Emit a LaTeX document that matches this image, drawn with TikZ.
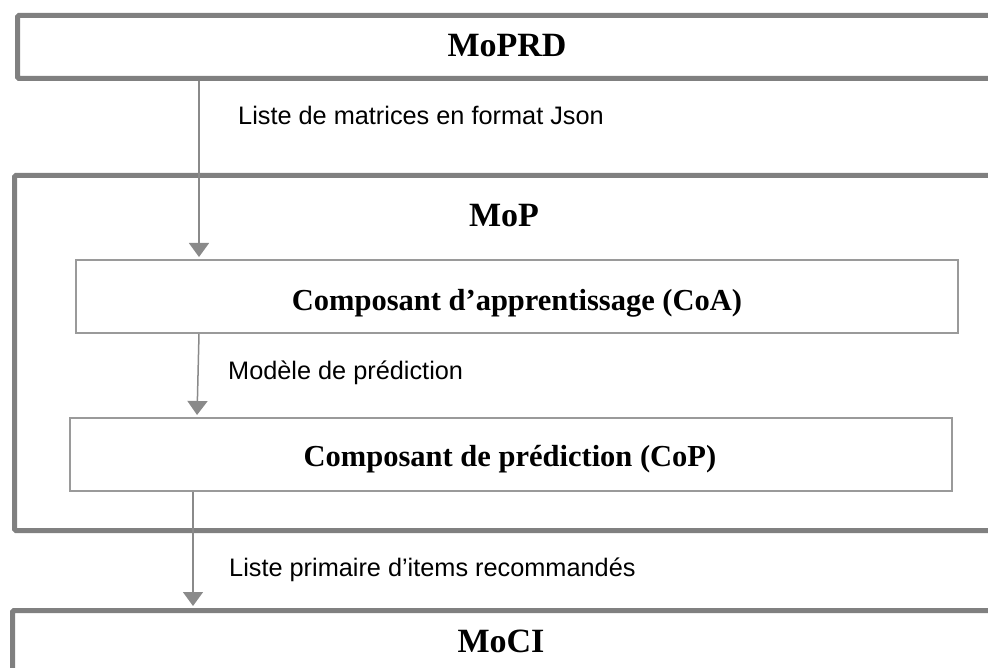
\documentclass[tikz,border=0pt]{standalone}
\usepackage{fontspec}
\setmainfont{Liberation Serif}
\newfontfamily\labfont{Liberation Sans}
\usetikzlibrary{arrows.meta}
\definecolor{thick}{HTML}{808080}
\definecolor{thin}{HTML}{9A9A9A}
\definecolor{arrc}{HTML}{8A8A8A}
\tikzset{
  bigbox/.style={draw=thick, line width=5pt, rounded corners=1.5pt, inner sep=0pt, anchor=north west},
  smallbox/.style={draw=thin, line width=1.8pt, inner sep=0pt, anchor=north west},
  title/.style={font=\fontsize{34}{40}\selectfont\bfseries, anchor=base, inner sep=0pt},
  subtitle/.style={font=\fontsize{30.5}{36}\selectfont\bfseries, anchor=base, inner sep=0pt},
  lab/.style={font=\labfont\fontsize{25.3}{30}\selectfont, anchor=base west, inner sep=0pt},
  arr/.style={draw=arrc, line width=1.5pt, -{Triangle[width=20pt,length=14pt]}, arrc, shorten >=2pt}
}
\begin{document}
\begin{tikzpicture}[x=1pt,y=-1pt]
\clip (0,0) rectangle (988,668);
\useasboundingbox (0,0) rectangle (988,668);
% big boxes
\node[bigbox, minimum width=1100pt, minimum height=63pt] (moprd) at (15,13) {};
\node[bigbox, minimum width=1100pt, minimum height=355pt] (mop) at (12,173) {};
\node[bigbox, minimum width=1100pt, minimum height=120pt] (moci) at (10,608) {};
% inner boxes
\node[smallbox, minimum width=882pt, minimum height=73pt] (coa) at (75,259) {};
\node[smallbox, minimum width=882pt, minimum height=73pt] (cop) at (69,417) {};
% titles
\node[title] (tmoprd) at (507,57) {MoPRD};
\node[title] (tmop) at (504,227) {MoP};
\node[subtitle] (tcoa) at (517,311) {Composant d’apprentissage (CoA)};
\node[subtitle] (tcop) at (510,466) {Composant de prédiction (CoP)};
\node[title] (tmoci) at (501,652) {MoCI};
% arrow columns
\coordinate (c1) at (199,0);
\coordinate (c2a) at (199,0);
\coordinate (c2b) at (197,0);
\coordinate (c3) at (193,0);
\draw[arr] (moprd.south -| c1) -- (coa.north -| c1);
\draw[arr] (coa.south -| c2a) -- (cop.north -| c2b);
\draw[arr] (cop.south -| c3) -- (moci.north -| c3);
% labels
\node[lab] (l1) at (238,125) {Liste de matrices en format Json};
\node[lab] (l2) at (228,379) {Modèle de prédiction};
\node[lab] (l3) at (229,576) {Liste primaire d’items recommandés};
\end{tikzpicture}
\end{document}
